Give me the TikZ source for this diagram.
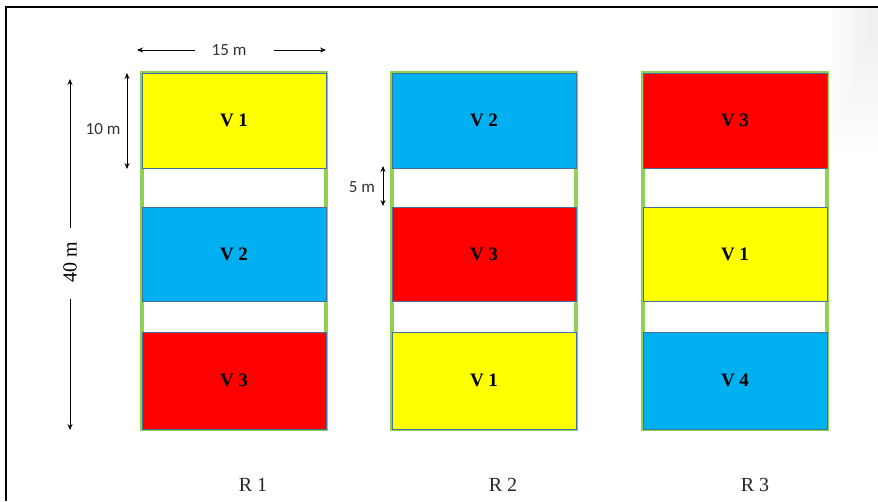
\documentclass[tikz,border=0pt]{standalone}
\usepackage{fontspec}
\setmainfont{Liberation Serif}
\newfontfamily\dimfont{Carlito}
\usetikzlibrary{arrows.meta}
\definecolor{vyellow}{HTML}{FFFF00}
\definecolor{vblue}{HTML}{00B0F0}
\definecolor{vred}{HTML}{FF0000}
\definecolor{vgreen}{HTML}{92D050}
\definecolor{voutline}{HTML}{41719C}
\begin{document}
\begin{tikzpicture}[x=1pt,y=-1pt,
  colframe/.style={draw=vgreen, line width=3.5pt, minimum width=184pt, minimum height=356pt, inner sep=0pt},
  plot/.style={draw=voutline, line width=0.9pt, minimum width=184pt, inner sep=0pt,
    font=\fontsize{19}{19}\selectfont\bfseries},
  rlabel/.style={font=\fontsize{20}{20}\selectfont, text=black!85},
  dimlabel/.style={font=\dimfont\fontsize{17}{17}\selectfont, text=black!80},
  dimarrow/.style={line width=0.8pt, -{Stealth[length=6pt,width=5pt]}},
  dimboth/.style={line width=0.8pt, {Stealth[length=6pt,width=5pt]}-{Stealth[length=6pt,width=5pt]}}
]
\useasboundingbox (0,0) rectangle (878,501);
% soft corner shadow (stepped glow)
\foreach \k in {1,...,10}{
  \pgfmathsetmacro{\w}{46-4*(\k-1)}
  \pgfmathsetmacro{\h}{140-12*(\k-1)}
  \pgfmathsetmacro{\g}{0.6*\k}
  \fill[black!\g] (878-\w,8) rectangle (878,8+\h);
}
% frame
\draw[line width=2pt] (6,501) -- (6,7) -- (878,7);

% columns
\foreach \cx/\n in {234/1,484/2,735/3}{
  \node[colframe] (col\n) at (\cx,251) {};
}
% column 1
\node[plot, fill=vyellow, minimum height=95pt] (a1) at (234,120.5) {V 1};
\node[plot, fill=vblue,   minimum height=94pt] (a2) at (234,254) {V 2};
\node[plot, fill=vred,    minimum height=97pt] (a3) at (234,380.5) {V 3};
% column 2
\node[plot, fill=vblue,   minimum height=95pt] (b1) at (484,120.5) {V 2};
\node[plot, fill=vred,    minimum height=94pt] (b2) at (484,254) {V 3};
\node[plot, fill=vyellow, minimum height=97pt] (b3) at (484,380.5) {V 1};
% column 3
\node[plot, fill=vred,    minimum height=95pt] (c1) at (735,120.5) {V 3};
\node[plot, fill=vyellow, minimum height=94pt] (c2) at (735,254) {V 1};
\node[plot, fill=vblue,   minimum height=97pt] (c3) at (735,380.5) {V 4};

% row labels
\node[rlabel] (r1) at (253,485) {R 1};
\node[rlabel] (r2) at (503,485) {R 2};
\node[rlabel] (r3) at (755,485) {R 3};

% 15 m
\node[dimlabel] (w15) at (229,50) {15 m};
\coordinate (wl) at (137,50);
\coordinate (wr) at (326,50);
\draw[dimarrow] (195,50) -- (wl);
\draw[dimarrow] (274,50) -- (wr);

% 10 m
\coordinate (h10t) at (127,73);
\coordinate (h10b) at (127,169);
\draw[dimboth] (h10t) -- (h10b);
\node[dimlabel] (l10) at (103,129) {10 m};

% 5 m
\coordinate (h5t) at (383,166);
\coordinate (h5b) at (383,206);
\draw[dimboth] (h5t) -- (h5b);
\node[dimlabel] (l5) at (362,187) {5 m};

% 40 m
\node[rlabel, rotate=90, text=black] (l40) at (70,262) {40 m};
\coordinate (t40) at (70,79);
\coordinate (b40) at (70,430);
\draw[dimarrow] (70,228) -- (t40);
\draw[dimarrow] (70,299) -- (b40);
\end{tikzpicture}
\end{document}
